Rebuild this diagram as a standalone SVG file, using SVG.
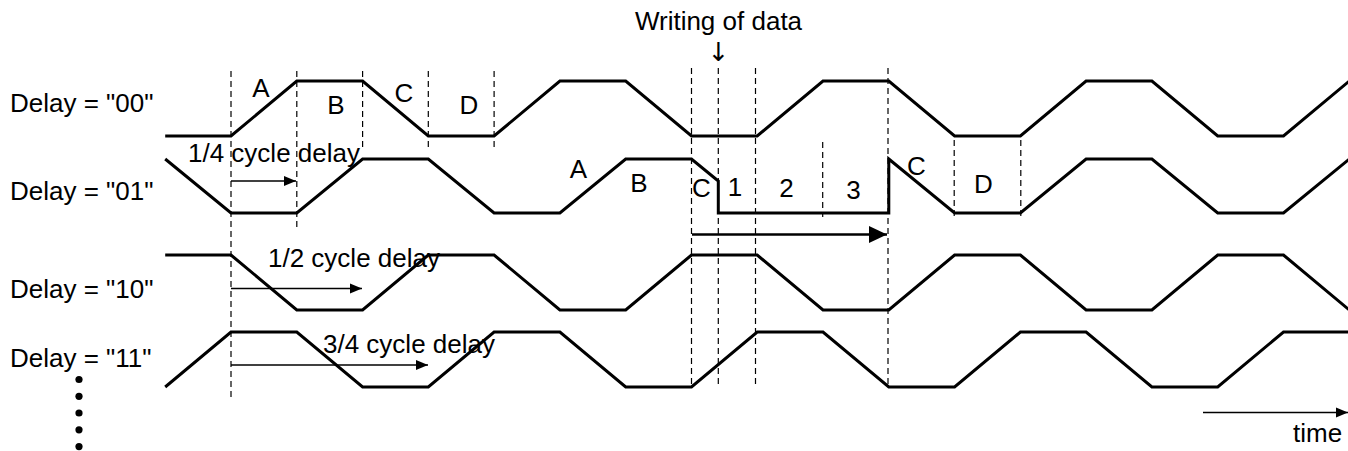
<svg xmlns="http://www.w3.org/2000/svg" width="1348" height="451" viewBox="0 0 1348 451">
  <style>
    text { font-family: "Liberation Sans", Arial, sans-serif; font-size: 26px; fill: #000; }
    .mid { text-anchor: middle; }
    .arrowglyph { font-family: "DejaVu Sans", sans-serif; font-size: 26px; }
    .wave { fill: none; stroke: #000; stroke-width: 3; stroke-linejoin: miter; }
    .dash { stroke: #000; stroke-width: 1.2; stroke-dasharray: 6,4; fill: none; }
    .thin { stroke: #000; stroke-width: 1.3; fill: none; marker-end: url(#headThin); }
    .thick { stroke: #000; stroke-width: 2.6; fill: none; marker-end: url(#headThick); }
  </style>
  <defs>
    <marker id="headThin" markerUnits="userSpaceOnUse" markerWidth="12" markerHeight="12" viewBox="0 0 12 12" refX="12" refY="6" orient="auto">
      <path d="M0,1 L12,6 L0,11 Z" fill="#000"/>
    </marker>
    <marker id="headThick" markerUnits="userSpaceOnUse" markerWidth="18" markerHeight="18" viewBox="0 0 18 18" refX="18" refY="9" orient="auto">
      <path d="M0,0.5 L18,9 L0,17.5 Z" fill="#000"/>
    </marker>
  </defs>
  <rect width="1348" height="451" fill="#fff"/>

  <g id="guides">
    <line class="dash" x1="231" y1="71" x2="231" y2="398"/>
    <line class="dash" x1="296.8" y1="71" x2="296.8" y2="231"/>
    <line class="dash" x1="362.6" y1="71" x2="362.6" y2="148"/>
    <line class="dash" x1="428.3" y1="71" x2="428.3" y2="148"/>
    <line class="dash" x1="494.1" y1="71" x2="494.1" y2="148"/>
    <line class="dash" x1="691.5" y1="68" x2="691.5" y2="387"/>
    <line class="dash" x1="718.3" y1="68" x2="718.3" y2="387"/>
    <line class="dash" x1="755.5" y1="68" x2="755.5" y2="387"/>
    <line class="dash" x1="822.7" y1="142" x2="822.7" y2="217"/>
    <line class="dash" x1="888" y1="68" x2="888" y2="387"/>
    <line class="dash" x1="954.2" y1="140" x2="954.2" y2="217"/>
    <line class="dash" x1="1020.8" y1="140" x2="1020.8" y2="217"/>
  </g>

  <g id="wave00">
    <path class="wave" d="M165.2,136 L231,136 L296.8,81 L362.6,81 L428.3,136 L494.1,136 L559.9,81 L625.7,81 L691.5,136 L757.2,136 L823,81 L888.8,81 L954.6,136 L1020.4,136 L1086.1,81 L1151.9,81 L1217.7,136 L1283.5,136 L1349.3,81"/>
    <text x="10" y="112">Delay = "00"</text>
    <text class="mid" x="261" y="97">A</text>
    <text class="mid" x="336" y="114">B</text>
    <text class="mid" x="404" y="102">C</text>
    <text class="mid" x="469" y="114">D</text>
  </g>

  <g id="wave01">
    <path class="wave" d="M165.2,159 L231,213 L296.8,213 L362.6,159 L428.3,159 L494.1,213 L559.9,213 L625.7,159 L691.5,159 L718.3,181 L718.3,213 L888.8,213 L888.8,159 L954.6,213 L1020.4,213 L1086.1,159 L1151.9,159 L1217.7,213 L1283.5,213 L1349.3,159"/>
    <text x="10" y="200">Delay = "01"</text>
    <text class="mid" x="578.5" y="178">A</text>
    <text class="mid" x="639" y="192">B</text>
    <text class="mid" x="701.5" y="197">C</text>
    <text class="mid" x="735" y="196">1</text>
    <text class="mid" x="786.5" y="197">2</text>
    <text class="mid" x="853.5" y="199">3</text>
    <text class="mid" x="916.5" y="175">C</text>
    <text class="mid" x="983.5" y="193">D</text>
  </g>

  <g id="wave10">
    <path class="wave" d="M165.2,255 L231,255 L296.8,310 L362.6,310 L428.3,255 L494.1,255 L559.9,310 L625.7,310 L691.5,255 L757.2,255 L823,310 L888.8,310 L954.6,255 L1020.4,255 L1086.1,310 L1151.9,310 L1217.7,255 L1283.5,255 L1349.3,310"/>
    <text x="10" y="298">Delay = "10"</text>
  </g>

  <g id="wave11">
    <path class="wave" d="M165.2,387 L231,332 L296.8,332 L362.6,387 L428.3,387 L494.1,332 L559.9,332 L625.7,387 L691.5,387 L757.2,332 L823,332 L888.8,387 L954.6,387 L1020.4,332 L1086.1,332 L1151.9,387 L1217.7,387 L1283.5,332 L1349.3,332"/>
    <text x="10" y="367">Delay = "11"</text>
  </g>

  <g id="ellipsis" fill="#000">
    <circle cx="79" cy="379.5" r="3.6"/>
    <circle cx="79" cy="396.3" r="3.6"/>
    <circle cx="79" cy="413" r="3.6"/>
    <circle cx="79" cy="429.8" r="3.6"/>
    <circle cx="79" cy="446.6" r="3.6"/>
  </g>

  <g id="connectors">
    <line class="thin" x1="231" y1="181" x2="296" y2="181"/>
    <line class="thin" x1="231" y1="288.5" x2="362" y2="288.5"/>
    <line class="thin" x1="231" y1="365" x2="428" y2="365"/>
    <line class="thick" x1="692" y1="234.5" x2="887" y2="234.5"/>
    <line class="thin" x1="1203" y1="412.5" x2="1348" y2="412.5"/>
  </g>

  <g id="labels">
    <text x="188" y="162">1/4 cycle delay</text>
    <text x="268" y="267">1/2 cycle delay</text>
    <text x="323" y="353">3/4 cycle delay</text>
    <text class="mid" x="718.5" y="30">Writing of data</text>
    <text class="mid arrowglyph" x="718.5" y="61">↓</text>
    <text x="1293" y="442">time</text>
  </g>
</svg>
